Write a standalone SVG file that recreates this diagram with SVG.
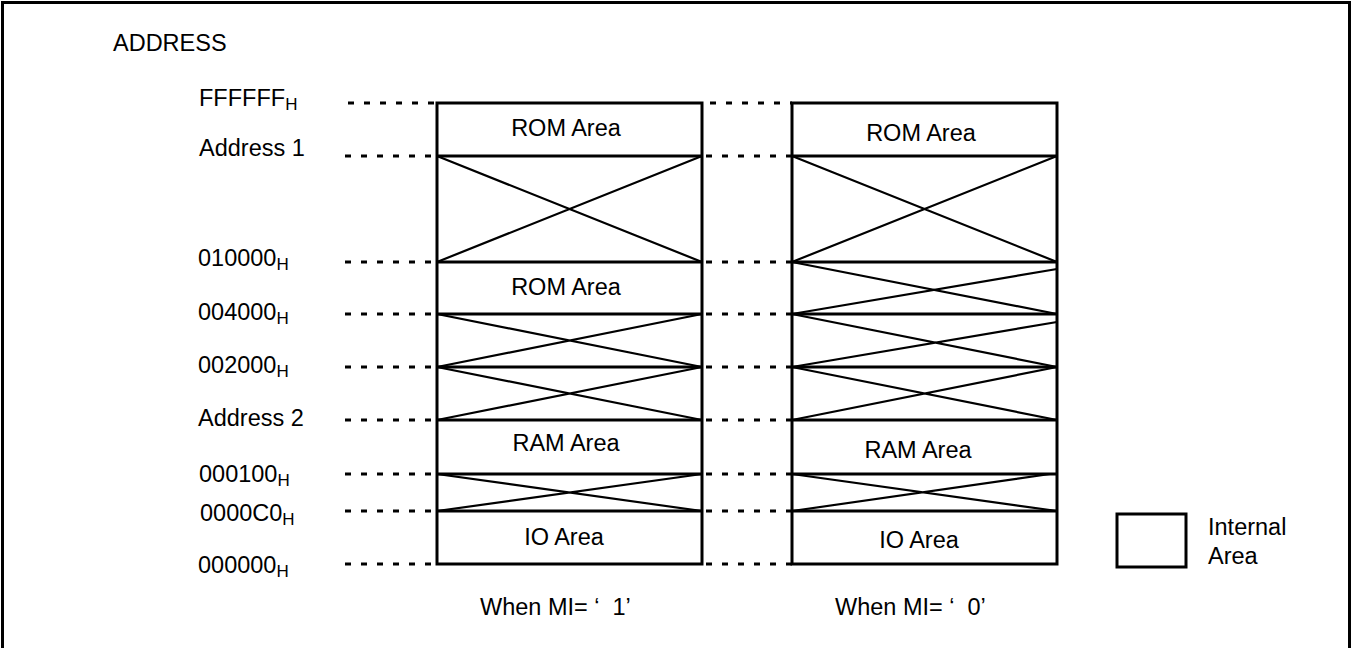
<svg xmlns="http://www.w3.org/2000/svg" width="1359" height="648" viewBox="0 0 1359 648">
<style>
text{font-family:"Liberation Sans",Arial,sans-serif;font-size:23.5px;fill:#000}
.c{text-anchor:middle}
.sub{font-size:17px}
.box{fill:none;stroke:#000;stroke-width:3}
.hl{stroke:#000;stroke-width:3}
.x{stroke:#000;stroke-width:2.2;fill:none}
.dot{stroke:#000;stroke-width:3;stroke-dasharray:6 10;fill:none}
</style>
<rect x="2.5" y="2.5" width="1347" height="670" fill="#fff" stroke="#000" stroke-width="3"/>
<text x="113" y="51">ADDRESS</text>
<g id="address-labels">
<text x="199" y="106">FFFFFF<tspan class="sub" dy="4">H</tspan></text>
<text x="199" y="156">Address 1</text>
<text x="198" y="266">010000<tspan class="sub" dy="4">H</tspan></text>
<text x="198" y="320">004000<tspan class="sub" dy="4">H</tspan></text>
<text x="198" y="373">002000<tspan class="sub" dy="4">H</tspan></text>
<text x="198" y="426">Address 2</text>
<text x="199" y="482">000100<tspan class="sub" dy="4">H</tspan></text>
<text x="200" y="521">0000C0<tspan class="sub" dy="4">H</tspan></text>
<text x="198" y="573">000000<tspan class="sub" dy="4">H</tspan></text>
</g>
<g id="connectors">
<path class="dot" d="M348 103H437M345 156H437M345 262H437M345 314H437M345 367H437M345 420H437M345 474H437M345 511H437M345 564H437"/>
<path class="dot" d="M710 103H792M706 156H792M706 262H792M706 314H792M706 367H792M706 420H792M706 474H792M706 511H792M706 564H792"/>
</g>
<g id="map-mi1">
<path class="x" d="M437 156L702 262M437 262L702 156M437 314L702 367M437 367L702 314M437 367L702 420M437 420L702 367M437 474L702 511M437 511L702 474"/>
<path class="hl" d="M437 156H702M437 262H702M437 314H702M437 367H702M437 420H702M437 474H702M437 511H702"/>
<rect class="box" x="437" y="103" width="265" height="461"/>
<text class="c" x="566" y="136">ROM Area</text>
<text class="c" x="566" y="295">ROM Area</text>
<text class="c" x="566" y="451">RAM Area</text>
<text class="c" x="564" y="545">IO Area</text>
<text x="480" y="615" xml:space="preserve">When MI= ‘  1’</text>
</g>
<g id="map-mi0">
<path class="x" d="M792 156L1057 262M792 262L1057 156M792 262L1057 314M792 314L1057 269M792 314L1057 367M792 367L1057 322M792 367L1057 420M792 420L1057 367M792 474L1057 511M792 511L1050 474"/>
<path class="hl" d="M792 156H1057M792 262H1057M792 314H1057M792 367H1057M792 420H1057M792 474H1057M792 511H1057"/>
<rect class="box" x="792" y="103" width="265" height="461"/>
<text class="c" x="921" y="141">ROM Area</text>
<text class="c" x="918" y="458">RAM Area</text>
<text class="c" x="919" y="548">IO Area</text>
<text x="835" y="615" xml:space="preserve">When MI= ‘  0’</text>
</g>
<g id="legend">
<rect class="box" x="1117" y="514" width="69" height="53"/>
<text x="1208" y="535">Internal</text>
<text x="1208" y="564">Area</text>
</g>
</svg>
